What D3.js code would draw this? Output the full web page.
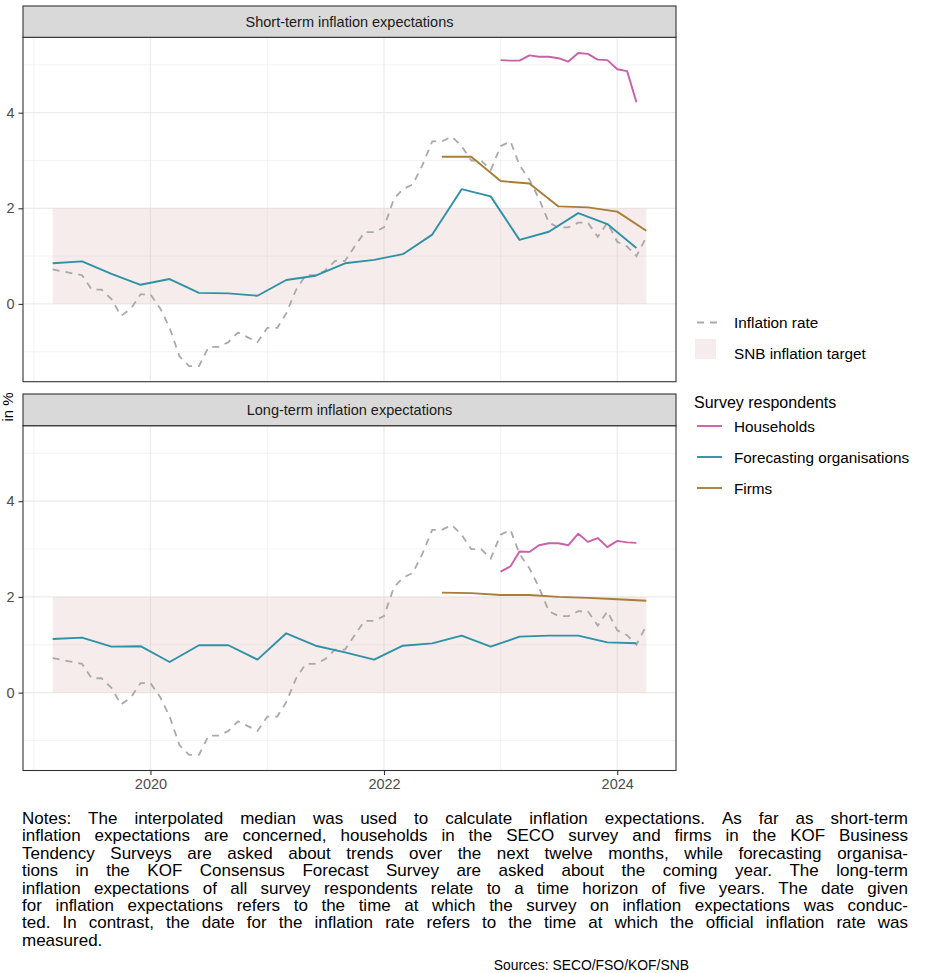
<!DOCTYPE html>
<html>
<head>
<meta charset="utf-8">
<script src="https://cdn.jsdelivr.net/npm/d3@7"></script>
<style>
  body { margin: 0; background: #fff; }
  svg text { font-family: "Liberation Sans", Arial, sans-serif; }
</style>
</head>
<body>
<div id="root"></div>
<script>
const w = 930;
const h = 973;

// inflation rate, monthly from March 2019 to April 2024
const inflationStart = "2019-03";
const inflationRate = [
    0.72, 0.68, 0.64, 0.6, 0.3, 0.3, 0.1, -0.25, -0.1, 0.2,
    0.2, -0.1, -0.5, -1.1, -1.3, -1.3, -0.9, -0.9, -0.8, -0.6, -0.7, -0.8,
    -0.5, -0.5, -0.2, 0.3, 0.6, 0.6, 0.7, 0.9, 0.9, 1.2, 1.5, 1.5,
    1.6, 2.2, 2.4, 2.5, 2.9, 3.4, 3.4, 3.5, 3.3, 3.0, 3.0, 2.8,
    3.3, 3.4, 2.9, 2.6, 2.2, 1.7, 1.6, 1.6, 1.7, 1.7, 1.4, 1.7,
    1.3, 1.2, 1.0, 1.4
];

// households, monthly
const householdMonths = [
    "2023-01", "2023-02", "2023-03", "2023-04", "2023-05", "2023-06", "2023-07", "2023-08",
    "2023-09", "2023-10", "2023-11", "2023-12", "2024-01", "2024-02", "2024-03"
];
const householdsShort = [5.10, 5.09, 5.09, 5.20, 5.17, 5.17, 5.14, 5.07, 5.25, 5.23, 5.11, 5.10, 4.91, 4.87, 4.22];
const householdsLong = [2.53, 2.64, 2.95, 2.94, 3.08, 3.12, 3.12, 3.08, 3.32, 3.15, 3.23, 3.04, 3.17, 3.14, 3.13];

// forecasting organisations, quarterly
const forecastMonths = [
    "2019-03", "2019-06", "2019-09", "2019-12", "2020-03", "2020-06", "2020-09", "2020-12",
    "2021-03", "2021-06", "2021-09", "2021-12", "2022-03", "2022-06", "2022-09", "2022-12",
    "2023-03", "2023-06", "2023-09", "2023-12", "2024-03"
];
const forecastShort = [0.85, 0.89, 0.63, 0.40, 0.52, 0.23, 0.22, 0.17, 0.50, 0.59, 0.85, 0.92, 1.04, 1.45, 2.40, 2.25, 1.34, 1.51, 1.90, 1.67, 1.17];
const forecastLong = [1.12, 1.15, 0.96, 0.97, 0.64, 0.99, 0.99, 0.69, 1.24, 0.98, 0.84, 0.69, 0.98, 1.03, 1.19, 0.96, 1.17, 1.19, 1.19, 1.05, 1.03];

// firms, quarterly
const firmMonths = ["2022-07", "2022-10", "2023-01", "2023-04", "2023-07", "2023-10", "2024-01", "2024-04"];
const firmsShort = [3.08, 3.08, 2.57, 2.52, 2.04, 2.02, 1.93, 1.53];
const firmsLong = [2.09, 2.08, 2.04, 2.04, 2.00, 1.98, 1.95, 1.92];

// SNB target band
const targetBand = [0, 2];

const panelTitles = ["Short-term inflation expectations", "Long-term inflation expectations"];
const yTicks = [0, 2, 4];
const yMinor = [-1, 1, 3, 5];
const xTickYears = [2020, 2022, 2024];
const xMinorYears = [2019, 2021, 2023];

const legendTop = ["Inflation rate", "SNB inflation target"];
const legendTitle = "Survey respondents";
const legendSeries = ["Households", "Forecasting organisations", "Firms"];

const notesLines = [
    "Notes: The interpolated median was used to calculate inflation expectations. As far as short-term",
    "inflation expectations are concerned, households in the SECO survey and firms in the KOF Business",
    "Tendency Surveys are asked about trends over the next twelve months, while forecasting organisa-",
    "tions in the KOF Consensus Forecast Survey are asked about the coming year. The long-term",
    "inflation expectations of all survey respondents relate to a time horizon of five years. The date given",
    "for inflation expectations refers to the time at which the survey on inflation expectations was conduc-",
    "ted. In contrast, the date for the inflation rate refers to the time at which the official inflation rate was",
    "measured."
];
const sourcesText = "Sources: SECO/FSO/KOF/SNB";

const colors = {
    Households: "#cc5fa9",
    "Forecasting organisations": "#2f91a6",
    Firms: "#a87d37",
    inflation: "#a9a9a9"
};

const parseMonth = d3.timeParse("%Y-%m");
const inflationDates = d3.timeMonth.range(parseMonth(inflationStart), d3.timeMonth.offset(parseMonth(inflationStart), inflationRate.length));

const panelLeft = 23, panelRight = 676;
const panels = [
    {stripTop: 6, top: 37.3, bottom: 381.7, title: panelTitles[0],
     series: [
        {name: "Households", dates: householdMonths, values: householdsShort},
        {name: "Forecasting organisations", dates: forecastMonths, values: forecastShort},
        {name: "Firms", dates: firmMonths, values: firmsShort}
     ]},
    {stripTop: 394, top: 425.7, bottom: 770.5, title: panelTitles[1],
     series: [
        {name: "Households", dates: householdMonths, values: householdsLong},
        {name: "Forecasting organisations", dates: forecastMonths, values: forecastLong},
        {name: "Firms", dates: firmMonths, values: firmsLong}
     ]}
];

// x-scale with 5% expansion like ggplot
const xStart = inflationDates[0];
const xEnd = inflationDates[inflationDates.length - 1];
const span = xEnd - xStart;
const xScale = d3.scaleTime()
    .domain([new Date(+xStart - span*0.05), new Date(+xEnd + span*0.05)])
    .range([panelLeft, panelRight]);

// y-range over every series, expanded 5%
const allValues = inflationRate.concat(householdsShort, householdsLong, forecastShort, forecastLong, firmsShort, firmsLong);
const yMin = d3.min(allValues), yMax = d3.max(allValues);
const yPad = (yMax - yMin)*0.05;

const svg = d3.select("#root")
    .append("svg")
    .attr("width", w)
    .attr("height", h);

panels.forEach((p, pi) => {
    const yScale = d3.scaleLinear()
        .domain([yMin - yPad, yMax + yPad])
        .range([p.bottom, p.top]);
    const g = svg.append("g").attr("class", "panel");

    // grid
    g.selectAll(".ygrid-minor").data(yMinor).enter().append("line")
        .attr("x1", panelLeft).attr("x2", panelRight)
        .attr("y1", d => yScale(d)).attr("y2", d => yScale(d))
        .attr("stroke", "#ebebeb").attr("stroke-width", 0.6);
    g.selectAll(".ygrid").data(yTicks).enter().append("line")
        .attr("x1", panelLeft).attr("x2", panelRight)
        .attr("y1", d => yScale(d)).attr("y2", d => yScale(d))
        .attr("stroke", "#ebebeb").attr("stroke-width", 1.2);
    g.selectAll(".xgrid-minor").data(xMinorYears).enter().append("line")
        .attr("x1", d => xScale(new Date(d, 0, 1))).attr("x2", d => xScale(new Date(d, 0, 1)))
        .attr("y1", p.top).attr("y2", p.bottom)
        .attr("stroke", "#ebebeb").attr("stroke-width", 0.6);
    g.selectAll(".xgrid").data(xTickYears).enter().append("line")
        .attr("x1", d => xScale(new Date(d, 0, 1))).attr("x2", d => xScale(new Date(d, 0, 1)))
        .attr("y1", p.top).attr("y2", p.bottom)
        .attr("stroke", "#ebebeb").attr("stroke-width", 1.2);

    // target band
    g.append("rect")
        .attr("x", xScale(xStart))
        .attr("width", xScale(xEnd) - xScale(xStart))
        .attr("y", yScale(targetBand[1]))
        .attr("height", yScale(targetBand[0]) - yScale(targetBand[1]))
        .attr("fill", "#e3bcbc")
        .attr("fill-opacity", 0.28);

    const line = d3.line()
        .x(d => xScale(d[0]))
        .y(d => yScale(d[1]));

    // inflation rate
    g.append("path")
        .datum(inflationDates.map((d, i) => [d, inflationRate[i]]))
        .attr("d", line)
        .attr("fill", "none")
        .attr("stroke", colors.inflation)
        .attr("stroke-width", 1.8)
        .attr("stroke-dasharray", "7,6");

    // survey series
    p.series.forEach(s => {
        g.append("path")
            .datum(s.dates.map((d, i) => [parseMonth(d), s.values[i]]))
            .attr("d", line)
            .attr("fill", "none")
            .attr("stroke", colors[s.name])
            .attr("stroke-width", 1.9)
            .attr("stroke-linejoin", "round");
    });

    // border and strip
    g.append("rect")
        .attr("x", panelLeft).attr("y", p.top)
        .attr("width", panelRight - panelLeft).attr("height", p.bottom - p.top)
        .attr("fill", "none").attr("stroke", "#333333").attr("stroke-width", 1.1);
    g.append("rect")
        .attr("x", panelLeft).attr("y", p.stripTop)
        .attr("width", panelRight - panelLeft).attr("height", p.top - p.stripTop)
        .attr("fill", "#d9d9d9").attr("stroke", "#333333").attr("stroke-width", 1.1);
    g.append("text")
        .attr("x", (panelLeft + panelRight)/2)
        .attr("y", (p.stripTop + p.top)/2)
        .attr("dy", "0.35em")
        .attr("text-anchor", "middle")
        .attr("font-size", "14.5px")
        .attr("fill", "#1a1a1a")
        .text(p.title);

    // y-axis
    const yAxis = d3.axisLeft(yScale).tickValues(yTicks).tickSize(4.5).tickPadding(4).tickFormat(d => d);
    const ya = g.append("g")
        .attr("transform", "translate(" + panelLeft + ",0)")
        .call(yAxis);
    ya.select(".domain").remove();
    ya.selectAll("line").attr("stroke", "#333333").attr("stroke-width", 1.1);
    ya.selectAll("text").attr("font-size", "14.5px").attr("fill", "#4d4d4d")
        .style("font-family", "'Liberation Sans', Arial, sans-serif");

    // x-axis only under the bottom panel
    if (pi === panels.length - 1) {
        const xAxis = d3.axisBottom(xScale)
            .tickValues(xTickYears.map(d => new Date(d, 0, 1)))
            .tickSize(4.5).tickPadding(4)
            .tickFormat(d3.timeFormat("%Y"));
        const xa = g.append("g")
            .attr("transform", "translate(0," + p.bottom + ")")
            .call(xAxis);
        xa.select(".domain").remove();
        xa.selectAll("line").attr("stroke", "#333333").attr("stroke-width", 1.1);
        xa.selectAll("text").attr("font-size", "14.5px").attr("fill", "#4d4d4d")
            .style("font-family", "'Liberation Sans', Arial, sans-serif");
    }
});

// y-axis title
svg.append("text")
    .attr("transform", "translate(13,407) rotate(-90)")
    .attr("text-anchor", "middle")
    .attr("font-size", "15px")
    .attr("fill", "#000")
    .text("in %");

// legend
const legend = svg.append("g").attr("id", "legend");
legend.append("line")
    .attr("x1", 697).attr("x2", 722).attr("y1", 322.5).attr("y2", 322.5)
    .attr("stroke", colors.inflation).attr("stroke-width", 1.8).attr("stroke-dasharray", "7,6");
legend.append("rect")
    .attr("x", 695).attr("y", 339).attr("width", 21).attr("height", 20)
    .attr("fill", "#e3bcbc").attr("fill-opacity", 0.28);
legend.selectAll(".top-label")
    .data(legendTop)
    .enter()
    .append("text")
    .attr("x", 734)
    .attr("y", (d, i) => 327.5 + i*31)
    .attr("font-size", "15.3px")
    .attr("fill", "#000")
    .text(d => d);
legend.append("text")
    .attr("x", 694).attr("y", 407.5)
    .attr("font-size", "16px")
    .attr("fill", "#000")
    .text(legendTitle);
legend.selectAll(".series-key")
    .data(legendSeries)
    .enter()
    .append("line")
    .attr("x1", 697).attr("x2", 722)
    .attr("y1", (d, i) => 426 + i*31).attr("y2", (d, i) => 426 + i*31)
    .attr("stroke", d => colors[d]).attr("stroke-width", 1.9);
legend.selectAll(".series-label")
    .data(legendSeries)
    .enter()
    .append("text")
    .attr("x", 734)
    .attr("y", (d, i) => 431.5 + i*31)
    .attr("font-size", "15.3px")
    .attr("fill", "#000")
    .text(d => d);

// notes, justified word by word
const notesLeft = 22, notesRight = 908, notesTop = 824, lineH = 17.4, notesSize = "17px";
notesLines.forEach((line, i) => {
    const y = notesTop + i*lineH;
    if (i === notesLines.length - 1) {
        svg.append("text").attr("x", notesLeft).attr("y", y)
            .attr("font-size", notesSize).attr("fill", "#000").text(line);
        return;
    }
    const words = line.split(" ");
    const nodes = words.map(wd => svg.append("text")
        .attr("y", y).attr("font-size", notesSize).attr("fill", "#000").text(wd));
    const widths = nodes.map(n => n.node().getComputedTextLength());
    const gap = (notesRight - notesLeft - d3.sum(widths))/(words.length - 1);
    let x = notesLeft;
    nodes.forEach((n, k) => {
        n.attr("x", x);
        x += widths[k] + gap;
    });
});

svg.append("text")
    .attr("x", 689).attr("y", 970)
    .attr("text-anchor", "end")
    .attr("font-size", "13.9px")
    .attr("fill", "#000")
    .text(sourcesText);
</script>
</body>
</html>
